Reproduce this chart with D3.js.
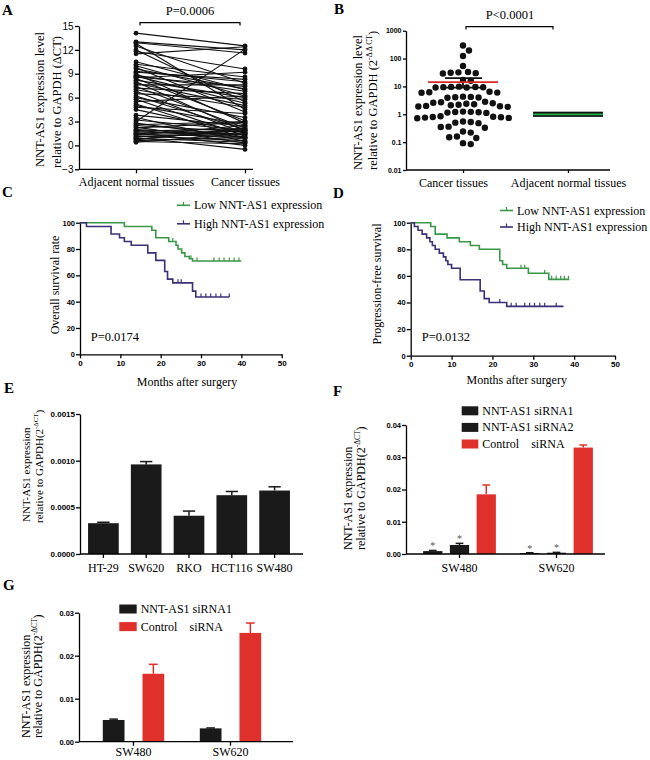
<!DOCTYPE html>
<html><head><meta charset="utf-8">
<script src="https://cdn.jsdelivr.net/npm/d3@7"></script>
<style>body{margin:0;background:#fff}svg{display:block;background:#fff}</style>
</head><body>
<svg id="c" width="650" height="760"></svg>
<script>
// ================= DATA =================
// Panel A: paired ΔCT values
const aCategories = ["Adjacent normal tissues", "Cancer tissues"];
const aAdjacent = [14.1,13.0,12.9,12.8,12.5,12.0,11.8,11.5,10.5,10.2,10.0,9.8,9.6,9.3,9.2,9.0,8.8,8.7,8.6,8.5,8.4,8.2,8.0,7.8,7.6,7.4,7.2,7.0,6.8,6.5,6.2,6.0,5.8,5.5,5.2,5.0,4.8,4.5,3.8,3.5,3.2,3.0,2.8,2.6,2.5,2.3,2.2,2.0,1.9,1.8,1.7,1.6,1.5,1.4,1.3,1.2,1.1,1.0,0.9,0.8,0.7,0.6,0.5,0.4];
const aCancer   = [12.5,12.0,11.6,4.5,7.8,5.5,9.6,12.4,7.0,8.6,6.2,4.2,7.1,8.0,8.3,2.8,6.8,5.3,7.4,9.2,3.1,6.0,1.8,5.0,7.6,2.2,6.5,4.8,1.5,5.8,2.0,3.5,1.2,6.2,0.9,2.6,4.0,1.6,2.4,0.5,1.9,12.1,1.0,3.0,1.7,0.3,2.9,1.4,0.8,2.1,1.3,0.0,1.8,1.1,2.5,0.6,1.6,-0.5,0.4,1.9,2.2,1.0,0.2,1.5];
const aTicks = [-3,0,3,6,9,12,15];
const aP = "P=0.0006";

// Panel B: 2^-ΔΔCT
const bCategories = ["Cancer tissues", "Adjacent normal tissues"];
const bCancer = [295,195,123,54,33,32,31,30,29,17,16,9.8,9.6,9.5,9.4,9.3,9.2,9.1,6.4,6.2,6.0,5.9,4.3,4.2,4.1,4.0,3.9,2.8,2.7,2.6,2.5,2.4,2.3,2.2,2.1,2.0,1.95,1.9,1.85,1.25,1.22,1.2,1.18,1.15,1.12,0.85,0.82,0.8,0.78,0.76,0.74,0.72,0.55,0.53,0.5,0.48,0.36,0.35,0.33,0.24,0.22,0.16,0.15,0.14,0.092,0.085];
const bNormalLevel = 1;
const bMean = 14.2, bSemHi = 19.8, bSemLo = 9.0;
const bTicks = [0.01,0.1,1,10,100,1000];
const bTickLabels = ["0.01","0.1","1","10","100","1000"];
const bP = "P<0.0001";

// Panels C & D: Kaplan–Meier
const kmSeries = ["Low NNT-AS1 expression", "High NNT-AS1 expression"];
const kmTicksX = [0,10,20,30,40,50];
const kmTicksY = [0,20,40,60,80,100];
const cLowT  = [0,11,17.8,18.8,22,23.8,24.3,25.2,26,27.1,27.9];
const cLowS  = [100,97.1,94.3,88.6,85.7,82.9,80,77.1,74.3,72.6,70.9];
const cLowCens = [23,27.5,29,33.2,34.5,35.7,37,38.2,39.4];
const cLowEnd = 40;
const cHighT = [0,1.6,7.7,9.8,11,12.7,16.8,18.8,21,21.7,23,27.9,28.7];
const cHighS = [100,97.1,91.4,88.6,85.7,82.9,77.1,71.4,62.9,57.1,54.3,48,43.5];
const cHighCens = [24.3,25.1,30,31.2,32.4,33.7,34.9,37];
const cHighEnd = 37;
const cP = "P=0.0174";

const dLowT  = [0,4.9,6,8.9,11.9,14.6,16.8,21.8,22.5,23.5,28.8,33.8];
const dLowS  = [100,97.1,91.4,88.6,85.7,82.9,80,71.4,68.6,65.7,62,57.4];
const dLowCens = [27,27.9,32.8,34.5,35.6,36.7,37.6,38.6];
const dLowEnd = 38.8;
const dHighT = [0,0.9,1.8,2.8,3.9,4.7,5.3,6,7,8,8.6,9.1,10,12.1,17,18,19.2,23.5];
const dHighS = [100,97.1,94.3,91.4,88.6,85.7,82.9,80,77.1,74.3,71.4,68.6,65.7,57.1,48.6,42.9,40,37.1];
const dHighCens = [21.8,24.6,25.8,27.9,29.1,30.3,31.6,32.8,35.6];
const dHighEnd = 37.4;
const dP = "P=0.0132";

// Panel E: cell lines
const eCells = ["HT-29","SW620","RKO","HCT116","SW480"];
const eMeans = [0.00033,0.00096,0.00041,0.00063,0.00068];
const eErr   = [0.00001,0.00003,0.00005,0.00004,0.00004];
const eTicks = [0,0.0005,0.0010,0.0015];

// Panel F
const fGroups = ["SW480","SW620"];
const fSeries = ["NNT-AS1 siRNA1","NNT-AS1 siRNA2","Control siRNA"];
const fValues = [[0.0009,0.0003],[0.0028,0.0004],[0.0185,0.0330]];
const fErr    = [[0.0002,0.0001],[0.0005,0.0001],[0.0029,0.0008]];
const fStar   = [[true,true],[true,true],[false,false]];
const fTicks = [0,0.01,0.02,0.03,0.04];

// Panel G
const gGroups = ["SW480","SW620"];
const gSeries = ["NNT-AS1 siRNA1","Control siRNA"];
const gValues = [[0.00505,0.0031],[0.0158,0.0253]];
const gErr    = [[0.0002,0.0001],[0.0022,0.0023]];
const gTicks = [0,0.01,0.02,0.03];

// ================= STYLE =================
const SERIF = "'Liberation Serif','Times New Roman',serif";
const SANS = "'Liberation Sans',Arial,sans-serif";
const GREEN = "#3a9748", PURPLE = "#3b2f78", RED = "#e0302b", BLACK = "#1a1a1a";
const svg = d3.select("#c");
svg.append("rect").attr("width",650).attr("height",760).attr("fill","#fff");

function styleAxis(g, font, size, weight){
  g.attr("font-family", null).attr("font-size", null);
  g.select(".domain").attr("stroke","#000").attr("stroke-width",1.3);
  g.selectAll(".tick line").attr("stroke","#000").attr("stroke-width",1.3);
  g.selectAll(".tick text").attr("font-family",font).attr("font-size",size)
    .attr("font-weight",weight).attr("fill","#000");
}
function hline(x1,x2,y,color,w){ svg.append("line").attr("x1",x1).attr("x2",x2).attr("y1",y).attr("y2",y).attr("stroke",color||"#000").attr("stroke-width",w||1.3); }
function letter(t,x,y){ svg.append("text").attr("x",x).attr("y",y).text(t).attr("font-family",SERIF).attr("font-weight","bold").attr("font-size",15); }
function text(t,x,y,opt){
  opt=opt||{};
  return svg.append("text").attr("x",x).attr("y",y).text(t).attr("font-family",opt.font||SERIF)
   .attr("font-size",opt.size||12).attr("text-anchor",opt.anchor||"start")
   .attr("dominant-baseline",opt.base||"auto").attr("fill",opt.fill||"#000");
}
// rotated label; parts: [[str, sup?],...]
function vlabel(parts,x,y,size,anchor){
  const t=svg.append("text").attr("transform",`translate(${x},${y}) rotate(-90)`)
   .attr("font-family",SERIF).attr("font-size",size).attr("text-anchor",anchor||"start")
   .attr("dominant-baseline","central");
  let up=false;
  parts.forEach(p=>{
    const ts=t.append("tspan").text(p[0]);
    if(p[1]){ ts.attr("font-size",size*0.62).attr("dy",-size*0.35); up=true; }
    else if(up){ ts.attr("dy",size*0.35); up=false; }
  });
  return t;
}

// ================= PANEL A =================
letter("A",2,15);
{
  const y = d3.scaleLinear().domain([-3,15]).range([169.3,26]);
  const x = d3.scalePoint().domain(aCategories).range([136,245]);
  const ga = svg.append("g").attr("transform","translate(79,0)")
    .call(d3.axisLeft(y).tickValues(aTicks).tickSize(4).tickPadding(1.5).tickSizeOuter(0));
  styleAxis(ga,SANS,10,"normal");
  hline(79,253,169.3);
  const gx = svg.append("g").attr("transform","translate(0,169.3)")
    .call(d3.axisBottom(x).tickSize(4).tickPadding(4));
  gx.select(".domain").remove();
  styleAxis(gx,SERIF,12,"normal");
  const pairs = aAdjacent.map((v,i)=>[v,aCancer[i]]);
  svg.append("g").selectAll("line").data(pairs).join("line")
    .attr("x1",x(aCategories[0])).attr("x2",x(aCategories[1]))
    .attr("y1",d=>y(d[0])).attr("y2",d=>y(d[1]))
    .attr("stroke","#111").attr("stroke-width",1.1);
  svg.append("g").selectAll("circle").data(pairs.flatMap(d=>[[0,d[0]],[1,d[1]]])).join("circle")
    .attr("cx",d=>x(aCategories[d[0]])).attr("cy",d=>y(d[1])).attr("r",2.4).attr("fill","#111");
  // bracket
  svg.append("path").attr("d",`M140,25.5V22.7H240V25.5`).attr("fill","none").attr("stroke","#000").attr("stroke-width",1.2);
  text(aP,190,14.5,{anchor:"middle",size:12.5});
  vlabel([["NNT-AS1 expression level"]],40,167,12.5);
  vlabel([["relative to GAPDH (ΔCT)"]],57,168,12.5);
}

// ================= PANEL B =================
letter("B",334,14);
{
  const y = d3.scaleLog().domain([0.01,1000]).range([170,30.7]);
  const x = d3.scalePoint().domain(bCategories).range([463,568]);
  const ga = svg.append("g").attr("transform","translate(406,0)")
    .call(d3.axisLeft(y).tickValues(bTicks).tickFormat((d,i)=>bTickLabels[i]).tickSize(3).tickPadding(1.5).tickSizeOuter(0));
  styleAxis(ga,SANS,7,"bold");
  hline(406,610,170);
  const gx = svg.append("g").attr("transform","translate(0,170)")
    .call(d3.axisBottom(x).tickSize(3).tickPadding(5));
  gx.select(".domain").remove();
  styleAxis(gx,SERIF,12,"normal");
  gx.selectAll(".tick text").attr("dx",(d,i)=>i===0?-10:0);
  // beeswarm
  const cx0 = x(bCategories[0]), dia = 7.8;
  const pts = bCancer.map(v=>({v,y:y(v)})).sort((a,b)=>a.y-b.y);
  const placed=[];
  pts.forEach(p=>{
    const cands=[0];
    placed.forEach(q=>{const dy=Math.abs(q.y-p.y); if(dy<dia){const dx=Math.sqrt(dia*dia-dy*dy); cands.push(q.dx+dx,q.dx-dx);}});
    cands.sort((a,b)=>Math.abs(a)-Math.abs(b));
    for(const c of cands){ if(placed.every(q=>{const ddx=q.dx-c,ddy=q.y-p.y;return ddx*ddx+ddy*ddy>=dia*dia-0.01;})){p.dx=c;break;} }
    placed.push(p);
  });
  svg.append("g").selectAll("circle").data(placed).join("circle")
    .attr("cx",d=>cx0+d.dx).attr("cy",d=>d.y).attr("r",3.2).attr("fill","#111");
  // mean & SEM
  hline(cx0-18,cx0+19,y(bSemHi),"#111",1.8);
  hline(cx0-18,cx0+19,y(bSemLo),"#111",1.8);
  svg.append("line").attr("x1",cx0).attr("x2",cx0).attr("y1",y(bSemHi)).attr("y2",y(bSemLo)).attr("stroke","#111").attr("stroke-width",1.8);
  hline(cx0-35,cx0+35,y(bMean),"#d42a2a",1.8);
  // normal
  const cx1 = x(bCategories[1]);
  svg.append("rect").attr("x",cx1-35).attr("width",70).attr("y",y(bNormalLevel)-2.6).attr("height",5.2).attr("fill","#111");
  hline(cx1-35,cx1+35,y(bNormalLevel),"#22b04b",1.8);
  svg.append("path").attr("d",`M466,29.5V26.7H553V29.5`).attr("fill","none").attr("stroke","#000").attr("stroke-width",1.2);
  text(bP,510,19,{anchor:"middle",size:12.5});
  vlabel([["NNT-AS1 expression level"]],358,170,12.5);
  vlabel([["relative to GAPDH (2"],["-Δ Δ CT",true],[")"]],373,170,12.5);
}

// ================= KM helper =================
function km(cfg){
  const {x,y,series,T,S,cens,ends,colors,legendX,legendY,pText,pX,pY,ylab,ylabX,ylabY,xlabX,xlabY,axisX,axisY} = cfg;
  const gy = svg.append("g").attr("transform",`translate(${axisX},0)`)
    .call(d3.axisLeft(y).tickValues(kmTicksY).tickSize(4).tickPadding(1).tickSizeOuter(0));
  styleAxis(gy,SANS,7.5,"bold");
  const gx = svg.append("g").attr("transform",`translate(0,${axisY})`)
    .call(d3.axisBottom(x).tickValues(kmTicksX).tickSize(4).tickPadding(2).tickSizeOuter(0));
  styleAxis(gx,SANS,8,"bold");
  const line = d3.line().x(d=>x(d[0])).y(d=>y(d[1])).curve(d3.curveStepAfter);
  series.forEach((s,k)=>{
    const pts = T[k].map((t,i)=>[t,S[k][i]]); pts.push([ends[k],S[k][S[k].length-1]]);
    svg.append("path").attr("d",line(pts)).attr("fill","none").attr("stroke",colors[k]).attr("stroke-width",1.6);
    const surv = t=>{let v=S[k][0]; T[k].forEach((tt,i)=>{if(tt<=t)v=S[k][i];}); return v;};
    svg.append("g").selectAll("line").data(cens[k]).join("line")
      .attr("x1",d=>x(d)).attr("x2",d=>x(d)).attr("y1",d=>y(surv(d))).attr("y2",d=>y(surv(d))-3.5)
      .attr("stroke",colors[k]).attr("stroke-width",1.2);
    const ly = legendY[k];
    svg.append("line").attr("x1",legendX).attr("x2",legendX+13).attr("y1",ly).attr("y2",ly).attr("stroke",colors[k]).attr("stroke-width",1.6);
    svg.append("line").attr("x1",legendX+6.5).attr("x2",legendX+6.5).attr("y1",ly).attr("y2",ly-3.5).attr("stroke",colors[k]).attr("stroke-width",1.2);
    text(s,legendX+17,ly,{base:"central",size:12});
  });
  text(pText,pX,pY,{base:"central",size:12.5});
  vlabel([[ylab]],ylabX,ylabY,12,"middle");
  text("Months after surgery",xlabX,xlabY,{anchor:"middle",base:"central",size:12});
}

letter("C",2,197);
km({x:d3.scaleLinear().domain([0,50]).range([80,281.7]), y:d3.scaleLinear().domain([0,100]).range([354.3,222.7]),
  series:kmSeries, T:[cLowT,cHighT], S:[cLowS,cHighS], cens:[cLowCens,cHighCens], ends:[cLowEnd,cHighEnd],
  colors:[GREEN,PURPLE], legendX:177, legendY:[205.3,223.8], pText:cP, pX:90.7, pY:336.7,
  ylab:"Overall survival rate", ylabX:55, ylabY:285, xlabX:187, xlabY:381.7, axisX:80, axisY:354.3});

letter("D",333,198);
km({x:d3.scaleLinear().domain([0,50]).range([410.7,615]), y:d3.scaleLinear().domain([0,100]).range([355.7,222.7]),
  series:kmSeries, T:[dLowT,dHighT], S:[dLowS,dHighS], cens:[dLowCens,dHighCens], ends:[dLowEnd,dHighEnd],
  colors:[GREEN,PURPLE], legendX:500, legendY:[210.5,227], pText:dP, pX:421.7, pY:336.7,
  ylab:"Progression-free survival", ylabX:376.7, ylabY:284, xlabX:516.7, xlabY:380, axisX:410.7, axisY:355.7});

// ================= error bar helper =================
function errBar(cx,yTop,yErr,bw,color){
  svg.append("line").attr("x1",cx).attr("x2",cx).attr("y1",yTop).attr("y2",yErr).attr("stroke",color).attr("stroke-width",1.5);
  hline(cx-bw*0.2,cx+bw*0.2,yErr,color,1.5);
}

// ================= PANEL E =================
letter("E",4,393);
{
  const y = d3.scaleLinear().domain([0,0.0015]).range([554,414]);
  const x = d3.scaleBand().domain(eCells).range([82,296]).paddingInner(0.283).paddingOuter(0.1415);
  const gy = svg.append("g").attr("transform","translate(80,0)")
    .call(d3.axisLeft(y).tickValues(eTicks).tickFormat(d3.format(".4f")).tickSize(4).tickPadding(1).tickSizeOuter(0));
  styleAxis(gy,SANS,8,"bold");
  eCells.forEach((c,i)=>{
    svg.append("rect").attr("x",x(c)).attr("width",x.bandwidth()).attr("y",y(eMeans[i])).attr("height",y(0)-y(eMeans[i])).attr("fill",BLACK);
    errBar(x(c)+x.bandwidth()/2,y(eMeans[i]),y(eMeans[i]+eErr[i]),x.bandwidth(),BLACK);
  });
  hline(80,303,554);
  const gx = svg.append("g").attr("transform","translate(0,554)")
    .call(d3.axisBottom(x).tickSize(4).tickPadding(5));
  gx.select(".domain").remove();
  styleAxis(gx,SERIF,12,"normal");
  vlabel([["NNT-AS1 expression"]],26,522,11);
  vlabel([["relative to GAPDH(2"],["-ΔCT",true],[")"]],39,523,11);
}

// ================= grouped bars helper =================
function grouped(cfg){
  const {groups,series,values,errs,stars,colors,y,x0,x1,axisX,axisEnd,ticks,legend,labPad} = cfg;
  const gy = svg.append("g").attr("transform",`translate(${axisX},0)`)
    .call(d3.axisLeft(y).tickValues(ticks).tickFormat(d3.format(".2f")).tickSize(4).tickPadding(1).tickSizeOuter(0));
  styleAxis(gy,SANS,7.5,"bold");
  series.forEach((s,k)=>{
    groups.forEach((g,j)=>{
      const bx = x0(g)+x1(s), bw = x1.bandwidth(), v = values[k][j];
      svg.append("rect").attr("x",bx).attr("width",bw).attr("y",y(v)).attr("height",y(0)-y(v)).attr("fill",colors[k]);
      errBar(bx+bw/2,y(v),y(v+errs[k][j]),bw,colors[k]);
      if(stars && stars[k][j]) text("*",bx+bw/2,y(v+errs[k][j])-1,{anchor:"middle",size:10,fill:"#555"});
    });
  });
  const y0 = y(0);
  hline(axisX,axisEnd,y0);
  const gx = svg.append("g").attr("transform",`translate(0,${y0})`)
    .call(d3.axisBottom(x0).tickSize(4).tickPadding(labPad));
  gx.select(".domain").remove();
  styleAxis(gx,SERIF,12,"normal");
  // legend
  const ref = svg.append("text").attr("font-family",SERIF).attr("font-size",12).text("NNT-AS1 ");
  const indent = ref.node().getComputedTextLength(); ref.remove();
  series.forEach((s,k)=>{
    const ly = legend.y0 + k*legend.dy;
    svg.append("rect").attr("x",legend.x).attr("y",ly-4.5).attr("width",legend.w).attr("height",9).attr("fill",colors[k]);
    const parts = s.split(" ");
    if(parts[0]==="Control"){
      text(parts[0],legend.x+legend.w+4,ly,{base:"central",size:12});
      text(parts[1],legend.x+legend.w+4+indent,ly,{base:"central",size:12});
    } else text(s,legend.x+legend.w+4,ly,{base:"central",size:12});
  });
}

// ================= PANEL F =================
letter("F",333,396);
{
  const y = d3.scaleLinear().domain([0,0.04]).range([554,425]);
  const x0 = d3.scaleBand().domain(fGroups).range([411,605]).paddingInner(0.25).paddingOuter(0.125);
  const x1 = d3.scaleBand().domain(fSeries).range([0,x0.bandwidth()]).paddingInner(0.28).paddingOuter(0);
  grouped({groups:fGroups,series:fSeries,values:fValues,errs:fErr,stars:fStar,colors:[BLACK,BLACK,RED],
    y,x0,x1,axisX:406,axisEnd:605,ticks:fTicks,legend:{x:461.7,y0:410.8,dy:16.6,w:16.6},labPad:5});
  vlabel([["NNT-AS1 expression"]],348,550,12);
  vlabel([["relative to GAPDH(2"],["-ΔCT",true],[")"]],361,550,12);
}

// ================= PANEL G =================
letter("G",3,590);
{
  const y = d3.scaleLinear().domain([0,0.03]).range([741.7,612.7]);
  const x0 = d3.scaleBand().domain(gGroups).range([85,279]).paddingInner(0.367).paddingOuter(0.1835);
  const x1 = d3.scaleBand().domain(gSeries).range([0,x0.bandwidth()]).paddingInner(0.453).paddingOuter(0);
  grouped({groups:gGroups,series:gSeries,values:gValues,errs:gErr,stars:null,colors:[BLACK,RED],
    y,x0,x1,axisX:79,axisEnd:293,ticks:gTicks,legend:{x:119.3,y0:609,dy:17.6,w:17.4},labPad:2});
  vlabel([["NNT-AS1 expression"]],26,738,12);
  vlabel([["relative to GAPDH(2"],["-ΔCT",true],[")"]],38,738,12);
}
</script>
</body></html>
